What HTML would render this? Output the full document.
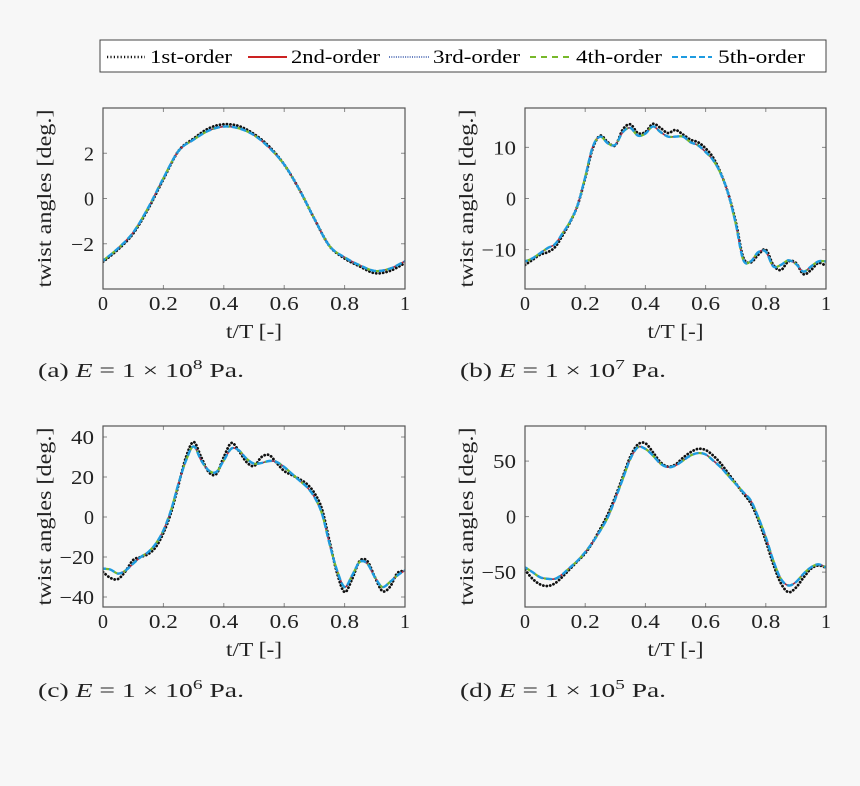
<!DOCTYPE html>
<html><head><meta charset="utf-8"><style>
html,body{margin:0;padding:0;background:#f7f7f7;}
svg{display:block;font-family:"Liberation Serif",serif;}
</style></head><body>
<svg id="fig" width="860" height="786" viewBox="0 0 860 786" xmlns="http://www.w3.org/2000/svg">
<rect x="0" y="0" width="860" height="786" fill="#f7f7f7"/>
<g>
<rect x="100" y="40" width="726" height="32" fill="#fff" stroke="#444" stroke-width="1"/>
<g><line x1="107" y1="57" x2="145" y2="57" stroke="#111" stroke-width="2.6" stroke-dasharray="1.2 2.2"/><text x="150" y="63" font-size="19" textLength="82" lengthAdjust="spacingAndGlyphs">1st-order</text></g>
<g><line x1="248" y1="57" x2="287" y2="57" stroke="#cc2222" stroke-width="2"/><text x="291" y="63" font-size="19" textLength="89" lengthAdjust="spacingAndGlyphs">2nd-order</text></g>
<g><line x1="389" y1="57" x2="429" y2="57" stroke="#3355aa" stroke-width="1.5" stroke-dasharray="1 1.3"/><text x="433" y="63" font-size="19" textLength="87" lengthAdjust="spacingAndGlyphs">3rd-order</text></g>
<g><line x1="530" y1="57" x2="570" y2="57" stroke="#77b82a" stroke-width="2" stroke-dasharray="6 5"/><text x="576" y="63" font-size="19" textLength="86" lengthAdjust="spacingAndGlyphs">4th-order</text></g>
<g><line x1="672" y1="57" x2="712" y2="57" stroke="#1e9be0" stroke-width="2" stroke-dasharray="6 3"/><text x="718" y="63" font-size="19" textLength="87" lengthAdjust="spacingAndGlyphs">5th-order</text></g>
</g>
</svg>
<script>
// ---- data ----
const tA = [0,0.05,0.1,0.15,0.2,0.25,0.3,0.35,0.4,0.45,0.5,0.55,0.6,0.65,0.7,0.75,0.8,0.85,0.9,0.95,1];
const firstA = [-2.8,-2.25,-1.55,-0.45,0.85,2.1,2.65,3.1,3.28,3.2,2.85,2.3,1.5,0.4,-0.9,-2.1,-2.65,-3.0,-3.3,-3.2,-2.85];
const higherA = [-2.75,-2.2,-1.5,-0.4,0.9,2.1,2.6,3.0,3.18,3.1,2.8,2.25,1.5,0.4,-0.9,-2.1,-2.6,-2.95,-3.2,-3.1,-2.77];
const tB = [0,0.025,0.05,0.075,0.1,0.125,0.15,0.175,0.2,0.225,0.25,0.275,0.3,0.325,0.35,0.375,0.4,0.425,0.45,0.475,0.5,0.525,0.55,0.575,0.6,0.625,0.65,0.675,0.7,0.725,0.75,0.775,0.8,0.825,0.85,0.875,0.9,0.925,0.95,0.975,1];
const firstB = [-13,-12,-11,-10.5,-9.5,-7.2,-4.6,-1.3,4,9.8,12.3,11,10.4,13.5,14.5,12.8,13,14.6,13.8,12.8,13.4,12.5,11.5,11,9.8,8,5,1,-4.5,-11.5,-12.5,-11,-10,-13,-14,-12.3,-12.6,-14.8,-14,-12.6,-13.2];
const higherB = [-12.3,-11.7,-10.7,-9.7,-8.9,-6.8,-4.5,-1.3,4.2,10.1,12.1,10.8,10.5,13,13.8,12.3,12.7,14.1,13,12.1,12.1,12.1,11,10.4,9.1,7.5,4.9,1,-4.9,-12,-12.3,-10.5,-10.4,-13.3,-13,-12.1,-12.8,-14.3,-13.3,-12.3,-12.3];
const tC = tB;
const firstC = [-27.5,-30.5,-31,-27,-21.5,-20,-18.5,-15,-8,2,16,30,37.5,30,22.5,21.5,30,37,33,27.5,25.5,30,31,27,23,21,19,16.5,12,4,-12,-28,-37.5,-31,-22,-22,-30,-37,-35,-28,-27];
const higherC = [-25.8,-26.3,-28.3,-26.7,-23.3,-20,-17.5,-13.3,-6.7,3.3,16.7,28.3,35.3,28.3,23.3,22.5,28.3,34.2,33.3,29.2,26.7,27,28,27.5,25,21.7,18.3,15,10,1.7,-13.3,-26.7,-35,-29.2,-22.5,-23.3,-30,-35,-32.5,-29.2,-26.7];
const tD = tB;
const firstD = [-48,-56,-61,-62.5,-60,-54,-47,-40,-33,-23,-11,2,18,36,54,65,66,58,49,45,47,53,58,61,60,55,48,39,30,21,12,-3,-22,-43,-60,-68,-64,-55,-47,-44,-46];
const higherD = [-45.7,-50,-54.6,-56,-56,-51.8,-45.7,-39.6,-32,-23,-12.6,-0.6,16,34,52,62.5,61,55,47.7,44.5,46,50.5,55,57.2,56,50.5,44.5,37,29.5,22,14.5,-0.6,-18.6,-39.6,-56,-62,-59,-51.5,-45.7,-43,-45.7];
const xTicks = [0,0.2,0.4,0.6,0.8,1];
const xTickLabels = ["0","0.2","0.4","0.6","0.8","1"];
const yTicksA = [-2,0,2], yTicksB = [-10,0,10], yTicksC = [-40,-20,0,20,40], yTicksD = [-50,0,50];
const captionLetters = ["(a)","(b)","(c)","(d)"];
const captionExps = ["8","7","6","5"];

const NS = "http://www.w3.org/2000/svg";
const svg = document.getElementById('fig');
function mk(tag, attrs, parent){ const e=document.createElementNS(NS,tag); for(const k in attrs) e.setAttribute(k,attrs[k]); (parent||svg).appendChild(e); return e; }

function smoothPath(pts){
  let d = "M"+pts[0][0].toFixed(2)+","+pts[0][1].toFixed(2);
  for(let i=0;i<pts.length-1;i++){
    const p0=pts[Math.max(0,i-1)], p1=pts[i], p2=pts[i+1], p3=pts[Math.min(pts.length-1,i+2)];
    const c1=[p1[0]+(p2[0]-p0[0])/6, p1[1]+(p2[1]-p0[1])/6];
    const c2=[p2[0]-(p3[0]-p1[0])/6, p2[1]-(p3[1]-p1[1])/6];
    d+=" C"+c1[0].toFixed(2)+","+c1[1].toFixed(2)+" "+c2[0].toFixed(2)+","+c2[1].toFixed(2)+" "+p2[0].toFixed(2)+","+p2[1].toFixed(2);
  }
  return d;
}

const panels = [
  {id:"a", L:103, R:405, T:108, B:289, ymin:-4, ymax:4, yt:yTicksA, t:tA, first:firstA, high:higherA, capX:38, capY:377},
  {id:"b", L:525, R:826, T:108, B:289, ymin:-17.7, ymax:17.7, yt:yTicksB, t:tB, first:firstB, high:higherB, capX:460, capY:377},
  {id:"c", L:103, R:405, T:426, B:607, ymin:-45, ymax:45.5, yt:yTicksC, t:tC, first:firstC, high:higherC, capX:38, capY:697},
  {id:"d", L:525, R:826, T:426, B:607, ymin:-81.4, ymax:81.6, yt:yTicksD, t:tD, first:firstD, high:higherD, capX:460, capY:697}
];

panels.forEach((p,pi)=>{
  const g = mk('g',{});
  
  
  const xs = v => p.L + v*(p.R-p.L);
  const ys = v => p.B - (v-p.ymin)/(p.ymax-p.ymin)*(p.B-p.T);
  const clipId = 'clip'+p.id;
  const cp = mk('clipPath',{id:clipId},g);
  mk('rect',{x:p.L,y:p.T,width:p.R-p.L,height:p.B-p.T},cp);
  xTicks.forEach((v,i)=>{
    const x=xs(v);
    mk('line',{x1:x,y1:p.B,x2:x,y2:p.B-4,stroke:"#888","stroke-width":1},g);
    mk('line',{x1:x,y1:p.T,x2:x,y2:p.T+4,stroke:"#888","stroke-width":1},g);
    const attrs = {x:x,y:p.B+21,"font-size":20,"text-anchor":"middle",fill:"#222"};
    if (xTickLabels[i].length>1){ attrs.textLength=29; attrs.lengthAdjust="spacingAndGlyphs"; }
    const tx = mk('text',attrs,g);
    tx.textContent = xTickLabels[i];
    
    
  });
  p.yt.forEach(v=>{
    const y=ys(v);
    mk('line',{x1:p.L,y1:y,x2:p.L+4,y2:y,stroke:"#888","stroke-width":1},g);
    mk('line',{x1:p.R,y1:y,x2:p.R-4,y2:y,stroke:"#888","stroke-width":1},g);
    const lab = v<0 ? "\u2212"+Math.abs(v) : String(v);
    const attrs = {x:p.L-9,y:y+7,"font-size":20,"text-anchor":"end",fill:"#222"};
    if (lab.length>1){ attrs.textLength = lab.length*11.5; attrs.lengthAdjust="spacingAndGlyphs"; }
    const tx = mk('text',attrs,g);
    tx.textContent = lab;
    
    
  });
  const cg = mk('g',{"clip-path":"url(#"+clipId+")"},g);
  const ptsF = p.t.map((t,i)=>[xs(t),ys(p.first[i])]);
  const ptsH = p.t.map((t,i)=>[xs(t),ys(p.high[i])]);
  const s1 = mk('path',{d:smoothPath(ptsF),fill:"none",stroke:"#111","stroke-width":2.8,"stroke-dasharray":"0.1 3.4","stroke-linecap":"round"},cg);
  
  
  const s2 = mk('path',{d:smoothPath(ptsH),fill:"none",stroke:"#cc2222","stroke-width":1.6},cg);
  
  
  const s3 = mk('path',{d:smoothPath(ptsH),fill:"none",stroke:"#3355aa","stroke-width":1.4,"stroke-dasharray":"1 1.3"},cg);
  
  
  const s4 = mk('path',{d:smoothPath(ptsH),fill:"none",stroke:"#77b82a","stroke-width":2.2,"stroke-dasharray":"6 5"},cg);
  
  
  const s5 = mk('path',{d:smoothPath(ptsH),fill:"none",stroke:"#1e9be0","stroke-width":2.4,"stroke-dasharray":"6 3","stroke-dashoffset":"3"},cg);
  
  
  const fr = mk('rect',{x:p.L,y:p.T,width:p.R-p.L,height:p.B-p.T,fill:"none",stroke:"#555","stroke-width":1.2},g);
  
  
  const xt = mk('text',{x:(p.L+p.R)/2,y:p.B+49,"font-size":20,"text-anchor":"middle",fill:"#222",textLength:56,lengthAdjust:"spacingAndGlyphs"},g);
  xt.textContent = "t/T [-]";
  
  
  const cy=(p.T+p.B)/2, cx=p.L-52;
  const yt = mk('text',{x:cx,y:cy,"font-size":20,"text-anchor":"middle",fill:"#222",textLength:178,lengthAdjust:"spacingAndGlyphs",transform:"rotate(-90 "+cx+" "+cy+")"},g);
  yt.textContent = "twist angles [deg.]";
  
  
  const cap = mk('text',{x:p.capX,y:p.capY,"font-size":20,fill:"#222",textLength:206,lengthAdjust:"spacingAndGlyphs"},g);
  
  
  const a = mk('tspan',{},cap); a.textContent = captionLetters[pi]+" ";
  const e = mk('tspan',{"font-style":"italic"},cap); e.textContent = "E";
  const b = mk('tspan',{},cap); b.textContent = " = 1 \u00d7 10";
  const s = mk('tspan',{"font-size":14,dy:-8},cap); s.textContent = captionExps[pi];
  const c = mk('tspan',{dy:8},cap); c.textContent = " Pa.";
});
</script>
</body></html>
